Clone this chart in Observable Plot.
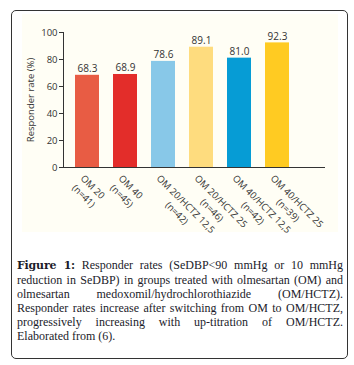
<!DOCTYPE html>
<html>
<head>
<meta charset="utf-8">
<script src="https://cdn.jsdelivr.net/npm/d3@7"></script>
<script src="https://cdn.jsdelivr.net/npm/@observablehq/plot@0.6"></script>
<style>
  html, body { margin: 0; padding: 0; background: #fff; }
  body { width: 354px; height: 365px; position: relative; overflow: hidden; }
  #box { position: absolute; left: 11px; top: 10px; width: 335px; height: 347px;
         border: 1px solid #333; border-radius: 5px; box-sizing: content-box; }
  #tint { position: absolute; left: 22px; top: 14px; width: 316px; height: 218px; background: #fffef5; }
  #chart { position: absolute; left: 0; top: 0; }
  #caption { position: absolute; left: 17px; top: 258px; width: 326px;
             font-family: "Liberation Serif", serif; font-size: 12px; line-height: 14px; color: #1b1b2a; }
  #caption .l { display: block; white-space: nowrap; text-align: justify; text-align-last: justify; }
  #caption .last { text-align-last: left; text-align: left; }
  #caption b { font-family: "DejaVu Serif", serif; font-weight: bold; font-size: 11px; letter-spacing: -0.2px; }
</style>
</head>
<body>
<div id="box"></div>
<div id="tint"></div>
<div id="chart"></div>
<div id="caption"></div>
<script>
// ---- data ----
const groups = ["OM 20", "OM 40", "OM 20/HCTZ 12,5", "OM 20/HCTZ 25", "OM 40/HCTZ 12,5", "OM 40/HCTZ 25"];
const counts = ["(n=41)", "(n=45)", "(n=42)", "(n=46)", "(n=42)", "(n=39)"];
const rates = [68.3, 68.9, 78.6, 89.1, 81.0, 92.3];
const barColors = ["#E85C44", "#E32D2A", "#88C8E8", "#FEDC7E", "#069CD5", "#FFCB22"];
const yTicks = [0, 20, 40, 60, 80, 100];
const yLabel = "Responder rate (%)";
const captionTitle = "Figure 1:";
const captionLines = [
  "Responder rates (SeDBP<90 mmHg or 10 mmHg",
  "reduction in SeDBP) in groups treated with olmesartan (OM) and",
  "olmesartan medoxomil/hydrochlorothiazide (OM/HCTZ).",
  "Responder rates increase after switching from OM to OM/HCTZ,",
  "progressively increasing with up-titration of OM/HCTZ.",
  "Elaborated from (6)."
];

const data = groups.map((g, i) => ({group: g, label: g + "\n" + counts[i], rate: rates[i], color: barColors[i]}));

const font = "'Open Sans', sans-serif";
const chart = Plot.plot({
  width: 354,
  height: 250,
  marginLeft: 63,
  marginRight: 29,
  marginTop: 32,
  marginBottom: 83,
  style: {fontFamily: font, fontSize: "9.5px", color: "#333", background: "transparent"},
  x: {domain: groups, paddingInner: 0.37, paddingOuter: 0.632, align: 0.25, axis: null},
  y: {domain: [0, 100], axis: null},
  marks: [
    Plot.barY(data, {x: "group", y: "rate", fill: "color"}),
    Plot.text(data, {x: "group", y: "rate", text: d => d.rate.toFixed(1), lineAnchor: "bottom", dy: -3, fill: "#333", fontSize: 10}),
    Plot.axisY({ticks: yTicks, tickSize: 4, tickPadding: 2, label: null, fontSize: 9.5, color: "#333", stroke: "#333"}),
    Plot.frame({anchor: "left", stroke: "#333"}),
    Plot.ruleY([0], {stroke: "#333"}),
    Plot.text(data, {x: "group", y: 0, text: "label", rotate: 45, textAnchor: "middle", lineAnchor: "top", lineHeight: 1.35, dx: -1, dy: 5, fill: "#333", fontSize: 9.5}),
    Plot.text([yLabel], {frameAnchor: "left", textAnchor: "middle", rotate: -90, dx: -33, fill: "#333", fontSize: 9.5})
  ]
});
document.getElementById("chart").appendChild(chart);

// shift rotated category labels so that each block starts at its anchor
chart.querySelectorAll("text").forEach(t => {
  const tr = t.getAttribute("transform") || "";
  if (tr.includes("rotate(45)")) {
    const w = t.getBBox().width;
    t.setAttribute("transform", tr + ` translate(${w / 2},0)`);
  }
});

// caption
const cap = document.getElementById("caption");
captionLines.forEach((line, i) => {
  const span = document.createElement("span");
  span.className = "l" + (i === captionLines.length - 1 ? " last" : "");
  if (i === 0) {
    const b = document.createElement("b");
    b.textContent = captionTitle;
    span.appendChild(b);
    span.appendChild(document.createTextNode(" " + line));
  } else {
    span.textContent = line;
  }
  cap.appendChild(span);
});
</script>
</body>
</html>
